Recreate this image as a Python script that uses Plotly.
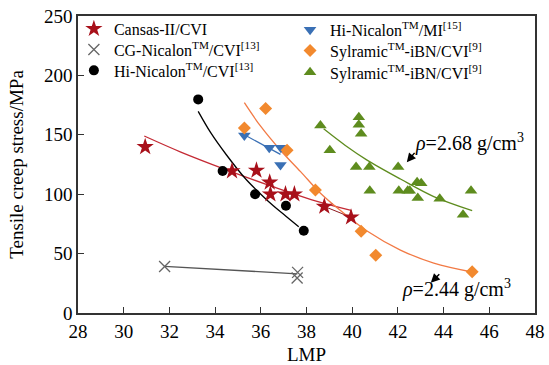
import plotly.graph_objects as go

# ---- data ----
cansas_lmp = [30.94, 34.74, 35.81, 36.39, 36.42, 37.08, 37.47, 38.78, 39.95]
cansas_stress = [139.8, 119.5, 120.0, 110.0, 100.0, 100.0, 100.0, 89.7, 80.6]
cansas_fit_lmp = [30.9, 32.5, 34.5, 36.5, 38.2, 39.95]
cansas_fit_stress = [149.0, 135.5, 120.5, 106.5, 95.5, 86.4]
cansas_extra_lmp = [38.78, 39.95, 39.95]
cansas_extra_stress = [89.7, 80.6, 86.4]

cg_lmp = [31.79, 37.61, 37.59]
cg_stress = [39.2, 34.2, 29.5]
cg_line_lmp = [31.79, 37.6]
cg_line_stress = [39.2, 33.0]

hicvi_lmp = [33.26, 34.33, 35.75, 37.10, 37.88]
hicvi_stress = [179.8, 119.5, 100.0, 90.3, 69.2]
hicvi_fit_lmp = [33.26, 33.8, 34.5, 35.33, 36.0, 36.56, 37.1, 37.66]
hicvi_fit_stress = [169.7, 152.0, 133.0, 113.0, 100.0, 90.0, 81.5, 72.5]

himi_lmp = [35.28, 36.37, 36.88, 36.86]
himi_stress = [149.5, 139.0, 139.0, 124.5]
himi_line_lmp = [35.28, 36.86]
himi_line_stress = [150.0, 133.5]

syl_o_lmp = [35.28, 36.21, 37.15, 38.39, 40.39, 41.03, 45.25]
syl_o_stress = [155.8, 172.2, 137.0, 103.5, 68.9, 48.6, 34.7]
syl_o_fit_lmp = [35.28, 36.0, 36.86, 37.74, 38.6, 39.5, 40.65, 42.11, 43.57, 45.25]
syl_o_fit_stress = [177.0, 157.0, 137.0, 119.0, 101.0, 86.0, 69.0, 53.0, 42.0, 34.5]

syl_g_lmp = [38.61, 40.29, 40.29, 40.39, 39.02, 40.17, 40.75, 42.01, 42.84, 43.02,
             40.77, 42.04, 42.43, 42.52, 42.87, 43.83, 45.20, 44.85]
syl_g_stress = [157.8, 164.8, 158.4, 150.8, 137.0, 122.8, 122.8, 122.8, 110.0, 109.2,
                102.8, 102.8, 102.8, 102.8, 96.7, 96.2, 102.8, 82.8]
syl_g_fit_lmp = [38.75, 39.7, 40.65, 42.11, 43.57, 45.25]
syl_g_fit_stress = [155.0, 141.0, 128.7, 112.8, 98.0, 86.2]

x_ticks = [28, 30, 32, 34, 36, 38, 40, 42, 44, 46, 48]
y_ticks = [0, 50, 100, 150, 200, 250]

FONT = "Liberation Serif"
RED = "#A8101A"
RED_LINE = "#C42A34"
GRAY = "#666666"
BLUE = "#3A70B5"
ORANGE = "#F2892E"
ORANGE_LINE = "#F27A45"
GREEN = "#5E8C1E"

fig = go.Figure()

def line(x, y, color, shape="spline", width=1.3):
    fig.add_trace(go.Scatter(x=x, y=y, mode="lines", line=dict(color=color, width=width, shape=shape),
                             showlegend=False, hoverinfo="skip"))

line(cansas_fit_lmp, cansas_fit_stress, RED_LINE)
line(cansas_extra_lmp, cansas_extra_stress, "#8E1A20", shape="linear", width=1)
line(cg_line_lmp, cg_line_stress, "#555555", shape="linear")
line(hicvi_fit_lmp, hicvi_fit_stress, "#000000")
line(himi_line_lmp, himi_line_stress, BLUE, shape="linear")
line(syl_o_fit_lmp, syl_o_fit_stress, ORANGE_LINE)
line(syl_g_fit_lmp, syl_g_fit_stress, GREEN)

def pts(x, y, name, symbol, color, size, legend, lw=0):
    fig.add_trace(go.Scatter(x=x, y=y, mode="markers", name=name, legend=legend,
                             marker=dict(symbol=symbol, color=color, size=size,
                                         line=dict(color=color, width=lw))))

pts(cansas_lmp, cansas_stress, "Cansas-II/CVI", "star", RED, 13, "legend")
pts(cg_lmp, cg_stress, "CG-Nicalon<sup>TM</sup>/CVI<sup>[13]</sup>", "x-thin", GRAY, 11, "legend2", lw=1.3)
pts(hicvi_lmp, hicvi_stress, "Hi-Nicalon<sup>TM</sup>/CVI<sup>[13]</sup>", "circle", "#000000", 10, "legend3")
pts(himi_lmp, himi_stress, "Hi-Nicalon<sup>TM</sup>/MI<sup>[15]</sup>", "triangle-down", BLUE, 11, "legend4")
pts(syl_o_lmp, syl_o_stress, "Sylramic<sup>TM</sup>-iBN/CVI<sup>[9]</sup>", "diamond", ORANGE, 10, "legend5")
pts(syl_g_lmp, syl_g_stress, "Sylramic<sup>TM</sup>-iBN/CVI<sup>[9]</sup>", "triangle-up", GREEN, 11, "legend6")

ann_font = dict(family=FONT, size=20, color="#000000")
fig.add_annotation(x=42.66, y=143.9, text="<i>ρ</i>=2.68 g/cm<sup>3</sup>", showarrow=False,
                   xanchor="left", yanchor="middle", font=ann_font)
fig.add_annotation(x=42.11, y=20.5, text="<i>ρ</i>=2.44 g/cm<sup>3</sup>", showarrow=False,
                   xanchor="left", yanchor="middle", font=ann_font)
fig.add_annotation(x=42.39, y=126.8, ax=9, ay=-11, text="", showarrow=True,
                   arrowhead=2, arrowsize=1.2, arrowwidth=1.5, arrowcolor="#000000")
fig.add_annotation(x=43.44, y=25.5, ax=10, ay=-10, text="", showarrow=True,
                   arrowhead=2, arrowsize=1.2, arrowwidth=1.5, arrowcolor="#000000")

axis_common = dict(showline=True, linecolor="#333333", linewidth=1.5, mirror=True,
                   ticks="inside", ticklen=6, tickwidth=1.3, tickcolor="#333333",
                   showgrid=False, zeroline=False, automargin=False,
                   tickfont=dict(family=FONT, size=19, color="#000000"))

fig.update_xaxes(range=[28, 48], tickvals=x_ticks, ticktext=[str(v) for v in x_ticks],
                 title=dict(text="LMP", font=dict(family=FONT, size=19, color="#000000")),
                 **axis_common)
fig.update_yaxes(range=[0, 250], tickvals=y_ticks, ticktext=[str(v) for v in y_ticks],
                 title=dict(text="Tensile creep stress/MPa", font=dict(family=FONT, size=19, color="#000000")),
                 **axis_common)

legend_font = dict(family=FONT, size=16, color="#000000")

def leg(x, y):
    return dict(x=x, y=y, xanchor="left", yanchor="middle", bgcolor="rgba(0,0,0,0)",
                font=legend_font, itemwidth=30, tracegroupgap=0)

fig.update_layout(
    width=549, height=365,
    margin=dict(l=78, r=14, t=13, b=52),
    paper_bgcolor="white", plot_bgcolor="white",
    font=dict(family=FONT),
    legend=leg(-0.009, 0.9567),
    legend2=leg(-0.009, 0.8867),
    legend3=leg(-0.009, 0.8167),
    legend4=leg(0.464, 0.9533),
    legend5=leg(0.464, 0.8833),
    legend6=leg(0.464, 0.81),
)

fig.write_html("out.html", config={"displayModeBar": False},
               post_script="document.body.style.margin='0';document.body.style.overflow='hidden';")
